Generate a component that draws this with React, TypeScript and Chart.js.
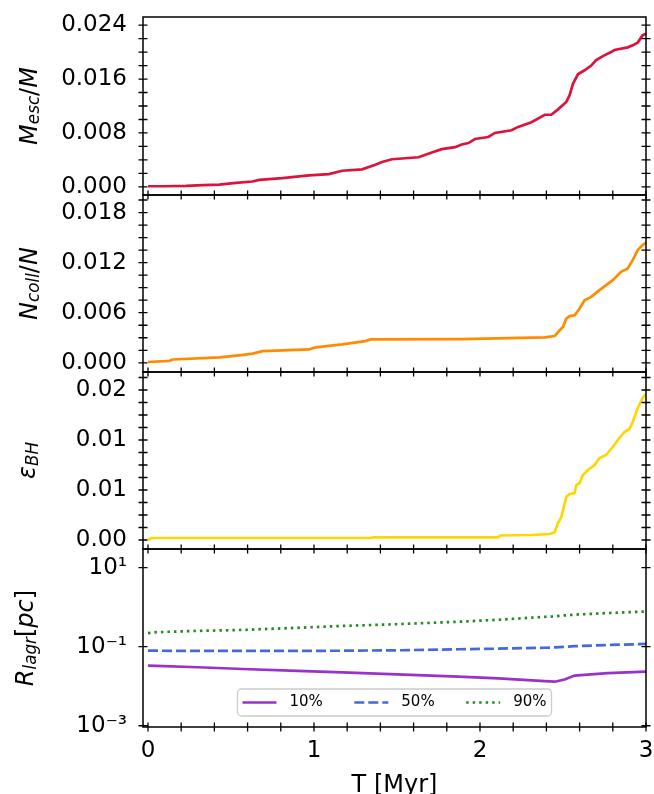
import { useEffect, useRef } from 'react';
import { Chart, registerables } from 'chart.js';

Chart.register(...registerables);

const W = 654;
const H = 794;
const FONT = '"DejaVu Sans", "Liberation Sans", sans-serif';
const PLOT_LEFT = 143;
const PLOT_RIGHT = 646;

// shared time axis [Myr]
const xMin = -0.03;
const xMax = 3.0;
const xMajor = [0, 1, 2, 3];
const xMinorStep = 0.2;

// escaped mass fraction
const tEsc = [0, 0.1, 0.23, 0.33, 0.43, 0.53, 0.63, 0.67, 0.81, 0.97, 1.09, 1.17, 1.29, 1.37, 1.41, 1.47, 1.63, 1.71, 1.77, 1.85, 1.89, 1.93, 1.97, 2.05, 2.09, 2.19, 2.23, 2.31, 2.39, 2.43, 2.47, 2.52, 2.54, 2.56, 2.59, 2.63, 2.67, 2.7, 2.74, 2.79, 2.81, 2.89, 2.92, 2.95, 2.98, 3.0];
const mEsc = [0.0001, 0.0001, 0.00015, 0.00025, 0.00035, 0.0006, 0.0008, 0.00104, 0.0013, 0.0017, 0.0019, 0.0024, 0.0026, 0.0033, 0.0037, 0.0041, 0.0044, 0.0051, 0.0056, 0.0059, 0.0063, 0.0065, 0.0071, 0.0074, 0.008, 0.0084, 0.0089, 0.0096, 0.0107, 0.0107, 0.0115, 0.0126, 0.0136, 0.0153, 0.0167, 0.0173, 0.018, 0.0188, 0.0194, 0.02, 0.0203, 0.0207, 0.021, 0.0214, 0.0225, 0.0227];
const escTicks = [0, 0.008, 0.016, 0.024];
const escTickLabels = ['0.000', '0.008', '0.016', '0.024'];

// collision fraction
const tColl = [0, 0.13, 0.15, 0.43, 0.55, 0.63, 0.69, 0.97, 1.01, 1.17, 1.31, 1.34, 1.89, 2.39, 2.45, 2.48, 2.5, 2.52, 2.54, 2.57, 2.6, 2.63, 2.67, 2.72, 2.76, 2.8, 2.85, 2.89, 2.92, 2.95, 2.98, 3.0];
const nColl = [0.0001, 0.00024, 0.0004, 0.00065, 0.0009, 0.0011, 0.0014, 0.0016, 0.00185, 0.0022, 0.0026, 0.0028, 0.00284, 0.00305, 0.0032, 0.0039, 0.0043, 0.0053, 0.0056, 0.0057, 0.0065, 0.0075, 0.0079, 0.0087, 0.0093, 0.0099, 0.0109, 0.0113, 0.0123, 0.0135, 0.0141, 0.0144];
const collTicks = [0, 0.006, 0.012, 0.018];
const collTickLabels = ['0.000', '0.006', '0.012', '0.018'];

// black-hole efficiency
const tBH = [0, 0.02, 1.34, 1.36, 2.11, 2.12, 2.31, 2.42, 2.45, 2.47, 2.49, 2.52, 2.54, 2.57, 2.58, 2.6, 2.62, 2.65, 2.69, 2.72, 2.76, 2.8, 2.83, 2.87, 2.9, 2.92, 2.95, 2.98, 3.0];
const epsBH = [0, 0.0002, 0.0002, 0.00026, 0.00027, 0.00045, 0.0005, 0.0006, 0.00077, 0.0017, 0.0023, 0.0043, 0.0046, 0.0047, 0.0055, 0.0057, 0.0065, 0.007, 0.0075, 0.0082, 0.0085, 0.0093, 0.01, 0.0108, 0.0111, 0.0118, 0.0132, 0.0142, 0.0146];
const bhTicks = [0, 0.005, 0.01, 0.015];
const bhTickLabels = ['0.00', '0.01', '0.01', '0.02'];

// Lagrangian radii [pc]
const tLagr = [0, 0.05, 0.3, 0.57, 0.9, 1.17, 1.5, 1.87, 2.11, 2.39, 2.45, 2.51, 2.57, 2.77, 3.0];
const r10 = [0.0331, 0.0325, 0.0302, 0.0272, 0.0245, 0.0224, 0.02, 0.0174, 0.0158, 0.0135, 0.013, 0.0148, 0.0186, 0.0214, 0.0234];
const r50 = [0.079, 0.079, 0.078, 0.078, 0.078, 0.079, 0.081, 0.086, 0.089, 0.094, 0.096, 0.099, 0.103, 0.11, 0.117];
const r90 = [0.219, 0.232, 0.251, 0.265, 0.3, 0.334, 0.37, 0.427, 0.479, 0.569, 0.582, 0.617, 0.645, 0.708, 0.776];
const lagrTicks = [0.001, 0.1, 10];
const lagrTickLabels = ['10\u207B\u00B3', '10\u207B\u00B9', '10\u00B9'];
const lagrLabels = ['10%', '50%', '90%'];

type Part = { t: string; it?: boolean; sub?: boolean };
type Series = { label: string; t: number[]; v: number[]; color: string; dash?: number[] };
type Panel = {
  top: number;
  bottom: number;
  min: number;
  max: number;
  log?: boolean;
  ticks: number[];
  labels: string[];
  minorStep?: number;
  title: Part[];
  titleX: number;
  series: Series[];
  last?: boolean;
};

const panels: Panel[] = [
  {
    top: 17, bottom: 195, min: -0.0012, max: 0.0252,
    ticks: escTicks, labels: escTickLabels, minorStep: 0.002,
    title: [{ t: 'M', it: true }, { t: 'esc', it: true, sub: true }, { t: '/' }, { t: 'M', it: true }],
    titleX: 36.5,
    series: [{ label: 'Mesc', t: tEsc, v: mEsc, color: '#DC143C' }],
  },
  {
    top: 195, bottom: 372, min: -0.0011, max: 0.0201,
    ticks: collTicks, labels: collTickLabels, minorStep: 0.0015,
    title: [{ t: 'N', it: true }, { t: 'coll', it: true, sub: true }, { t: '/' }, { t: 'N', it: true }],
    titleX: 36.5,
    series: [{ label: 'Ncoll', t: tColl, v: nColl, color: '#FF8C00' }],
  },
  {
    top: 372, bottom: 549, min: -0.0009, max: 0.0168,
    ticks: bhTicks, labels: bhTickLabels, minorStep: 0.00125,
    title: [{ t: '\u03B5', it: true }, { t: 'BH', it: true, sub: true }],
    titleX: 35,
    series: [{ label: 'epsBH', t: tBH, v: epsBH, color: '#FFD700' }],
  },
  {
    top: 549, bottom: 727, min: 0.00093, max: 29.5, log: true,
    ticks: lagrTicks, labels: lagrTickLabels,
    title: [{ t: 'R', it: true }, { t: 'lagr', it: true, sub: true }, { t: '[' }, { t: 'pc', it: true }, { t: ']' }],
    titleX: 33,
    series: [
      { label: lagrLabels[0], t: tLagr, v: r10, color: '#9932CC' },
      { label: lagrLabels[1], t: tLagr, v: r50, color: '#4169E1', dash: [10, 4] },
      { label: lagrLabels[2], t: tLagr, v: r90, color: '#228B22', dash: [2.5, 4] },
    ],
    last: true,
  },
];

function stepValues(lo: number, hi: number, step: number): number[] {
  const out: number[] = [];
  const n0 = Math.ceil(lo / step - 1e-9);
  const n1 = Math.floor(hi / step + 1e-9);
  for (let n = n0; n <= n1; n++) out.push(n * step);
  return out;
}

function drawMath(ctx: CanvasRenderingContext2D, parts: Part[], baseX: number, cy: number, size: number) {
  const fontOf = (p: Part) => `${p.it ? 'italic ' : ''}${p.sub ? size * 0.7 : size}px ${FONT}`;
  let w = 0;
  const widths = parts.map((p) => {
    ctx.font = fontOf(p);
    const m = ctx.measureText(p.t).width;
    w += m;
    return m;
  });
  ctx.save();
  ctx.translate(baseX, cy);
  ctx.rotate(-Math.PI / 2);
  ctx.fillStyle = '#000';
  ctx.textAlign = 'left';
  ctx.textBaseline = 'alphabetic';
  let cx = -w / 2;
  parts.forEach((p, i) => {
    ctx.font = fontOf(p);
    ctx.fillText(p.t, cx, p.sub ? size * 0.12 : 0);
    cx += widths[i];
  });
  ctx.restore();
}

function decor(p: Panel) {
  return {
    id: 'decor',
    afterDraw(chart: any) {
      const { ctx, chartArea: a, scales } = chart;
      const xs = scales.x;
      const ys = scales.y;
      const TL = 4.5;
      ctx.save();
      // axes frame
      ctx.strokeStyle = '#000';
      ctx.lineWidth = 1.5;
      ctx.strokeRect(a.left, a.top, a.right - a.left, a.bottom - a.top);

      // tick marks crossing the frame
      ctx.lineWidth = 1.3;
      ctx.beginPath();
      const yVals = p.minorStep ? stepValues(p.min, p.max, p.minorStep) : p.ticks;
      yVals.forEach((v) => {
        const py = ys.getPixelForValue(v);
        if (py < a.top - 0.5 || py > a.bottom + 0.5) return;
        ctx.moveTo(a.left - TL, py);
        ctx.lineTo(a.left + TL, py);
        ctx.moveTo(a.right - TL, py);
        ctx.lineTo(a.right + TL, py);
      });
      stepValues(0, xMax, xMinorStep).forEach((v) => {
        const px = xs.getPixelForValue(v);
        ctx.moveTo(px, a.bottom - TL);
        ctx.lineTo(px, a.bottom + TL);
      });
      ctx.stroke();

      // y title
      drawMath(ctx, p.title, p.titleX, (a.top + a.bottom) / 2, 24);

      if (p.last) {
        // x title
        ctx.fillStyle = '#000';
        ctx.font = `24px ${FONT}`;
        ctx.textAlign = 'center';
        ctx.textBaseline = 'alphabetic';
        ctx.fillText('T [Myr]', (a.left + a.right) / 2, 791.5);

        // legend, lower centre
        const ds = chart.data.datasets;
        ctx.font = `15px ${FONT}`;
        const sample = 34;
        const gap = 13;
        const col = 31.5;
        const padX = 5;
        const boxH = 27;
        const widths = ds.map((d: any) => ctx.measureText(d.label).width);
        const boxW = padX * 2 + widths.reduce((s: number, w: number) => s + sample + gap + w, 0) + col * (ds.length - 1);
        const bx = (a.left + a.right) / 2 - boxW / 2;
        const by = a.bottom - 11 - boxH;
        ctx.beginPath();
        ctx.roundRect(bx, by, boxW, boxH, 4);
        ctx.fillStyle = 'rgba(255,255,255,0.8)';
        ctx.fill();
        ctx.strokeStyle = '#cccccc';
        ctx.lineWidth = 1.3;
        ctx.stroke();
        let cx = bx + padX;
        const cy = by + boxH / 2;
        ds.forEach((d: any, i: number) => {
          ctx.beginPath();
          ctx.setLineDash(d.borderDash || []);
          ctx.strokeStyle = d.borderColor;
          ctx.lineWidth = 2.7;
          ctx.moveTo(cx, cy);
          ctx.lineTo(cx + sample, cy);
          ctx.stroke();
          ctx.setLineDash([]);
          ctx.fillStyle = '#000';
          ctx.font = `15px ${FONT}`;
          ctx.textAlign = 'left';
          ctx.textBaseline = 'middle';
          ctx.fillText(d.label, cx + sample + gap, cy);
          cx += sample + gap + widths[i] + col;
        });
      }
      ctx.restore();
    },
  };
}

function makeChart(canvas: HTMLCanvasElement, p: Panel) {
  return new Chart(canvas, {
    type: 'line',
    data: {
      datasets: p.series.map((s) => ({
        label: s.label,
        data: s.t.map((t, i) => ({ x: t, y: s.v[i] })),
        borderColor: s.color,
        borderWidth: 2.7,
        borderDash: s.dash || [],
        pointRadius: 0,
        tension: 0,
        fill: false,
      })),
    },
    options: {
      animation: false,
      responsive: false,
      devicePixelRatio: 1,
      events: [],
      layout: {
        padding: { left: 0, right: W - PLOT_RIGHT, top: p.top, bottom: p.last ? 0 : H - p.bottom },
      },
      plugins: { legend: { display: false }, tooltip: { enabled: false } },
      scales: {
        x: {
          type: 'linear',
          min: xMin,
          max: xMax,
          bounds: 'data',
          display: !!p.last,
          grid: { display: false, drawTicks: false },
          border: { display: false },
          ticks: {
            font: { family: FONT, size: 23 },
            color: '#000',
            padding: 10,
            maxRotation: 0,
            autoSkip: false,
            callback: (v: any) => String(v),
          },
          afterBuildTicks: (s: any) => {
            s.ticks = xMajor.map((v) => ({ value: v }));
          },
          afterFit: (s: any) => {
            s.height = p.last ? H - p.bottom : 0;
            s.paddingLeft = 0;
            s.paddingRight = 0;
          },
        },
        y: {
          type: p.log ? 'logarithmic' : 'linear',
          min: p.min,
          max: p.max,
          bounds: 'data',
          grid: { display: false, drawTicks: false },
          border: { display: false },
          ticks: {
            font: { family: FONT, size: 23 },
            color: '#000',
            padding: 16,
            autoSkip: false,
            callback: (_v: any, i: number) => p.labels[i],
          },
          afterBuildTicks: (s: any) => {
            s.ticks = p.ticks.map((v) => ({ value: v }));
          },
          afterFit: (s: any) => {
            s.width = PLOT_LEFT;
            s.paddingTop = 0;
            s.paddingBottom = 0;
          },
        },
      },
    } as any,
    plugins: [decor(p)],
  });
}

function PanelCanvas({ panel }: { panel: Panel }) {
  const ref = useRef<HTMLCanvasElement>(null);
  useEffect(() => {
    if (!ref.current) return;
    const chart = makeChart(ref.current, panel);
    return () => chart.destroy();
  }, [panel]);
  return (
    <canvas
      ref={ref}
      width={W}
      height={H}
      style={{ position: 'absolute', left: 0, top: 0, width: W, height: H }}
    />
  );
}

export default function App() {
  useEffect(() => {
    document.body.style.margin = '0';
    document.body.style.overflow = 'hidden';
  }, []);
  return (
    <div style={{ position: 'absolute', left: 0, top: 0, width: W, height: H, background: '#fff' }}>
      {panels.map((p, i) => (
        <PanelCanvas key={i} panel={p} />
      ))}
    </div>
  );
}
